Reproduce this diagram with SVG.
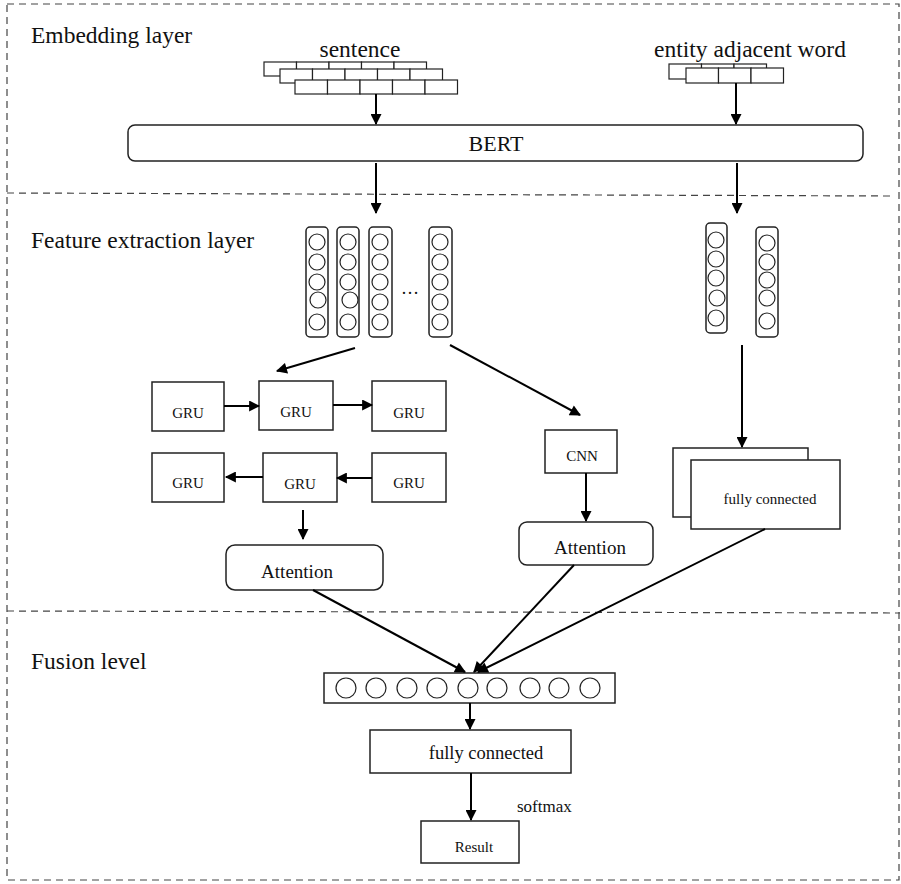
<svg xmlns="http://www.w3.org/2000/svg" width="901" height="884" viewBox="0 0 901 884" font-family="'Liberation Serif','Times New Roman',serif">
<style>
text{font-family:"Liberation Serif","Times New Roman",serif;fill:#111}
.dash{fill:none;stroke:#444;stroke-width:1.2;stroke-dasharray:7,5}
.box{fill:#fff;stroke:#222;stroke-width:1.5}
.cell{fill:#fff;stroke:#222;stroke-width:1.2}
.c{fill:none;stroke:#222;stroke-width:1.2}
.arr{fill:none;stroke:#000;stroke-width:2;marker-end:url(#ah)}
.lbl{font-size:23.5px}
.sm{font-size:15px;text-anchor:middle}
.md{font-size:19px;text-anchor:middle}
</style>
<defs>
<marker id="ah" viewBox="0 0 10 10" refX="9" refY="5" markerWidth="12" markerHeight="11" markerUnits="userSpaceOnUse" orient="auto">
<path d="M0,0L10,5L0,10z" fill="#000"/>
</marker>
<g id="cellrow5">
<rect class="cell" x="0" y="0" width="32.5" height="14"/><rect class="cell" x="32.5" y="0" width="32.5" height="14"/><rect class="cell" x="65" y="0" width="32.5" height="14"/><rect class="cell" x="97.5" y="0" width="32.5" height="14"/><rect class="cell" x="130" y="0" width="32.5" height="14"/>
</g>
<g id="cellrow3">
<rect class="cell" x="0" y="0" width="32.5" height="15"/><rect class="cell" x="32.5" y="0" width="32.5" height="15"/><rect class="cell" x="65" y="0" width="32.5" height="15"/>
</g>
</defs>
<rect width="901" height="884" fill="#fff"/>

<g id="layers">
<path class="dash" d="M7,4H899V880H7Z"/>
<line class="dash" x1="7" y1="193" x2="890" y2="196"/>
<line class="dash" x1="7" y1="611" x2="900" y2="613"/>
<text class="lbl" x="31" y="43">Embedding layer</text>
<text class="lbl" x="31" y="248">Feature extraction layer</text>
<text class="lbl" x="31" y="669">Fusion level</text>
</g>

<g id="sentence">
<text class="lbl" x="360" y="57" text-anchor="middle">sentence</text>
<use href="#cellrow5" x="264" y="62"/>
<use href="#cellrow5" x="280" y="69"/>
<use href="#cellrow5" x="295" y="80"/>
</g>

<g id="entity">
<text class="lbl" x="750" y="57" text-anchor="middle">entity adjacent word</text>
<use href="#cellrow3" x="669" y="64"/>
<use href="#cellrow3" x="686" y="68"/>
</g>

<g id="bert">
<rect class="box" x="128" y="125" width="735" height="36" rx="7"/>
<text x="496" y="151" font-size="22" text-anchor="middle">BERT</text>
</g>

<g id="vectors-left">
<rect class="box" x="306" y="227" width="22" height="110" rx="4"/>
<rect class="box" x="337" y="227" width="22" height="110" rx="4"/>
<rect class="box" x="369" y="227" width="23" height="110" rx="4"/>
<rect class="box" x="429" y="227" width="23" height="110" rx="4"/>
<circle class="c" cx="317" cy="242" r="8"/><circle class="c" cx="317" cy="262" r="8"/><circle class="c" cx="317" cy="282" r="8"/><circle class="c" cx="318" cy="300" r="8"/><circle class="c" cx="317" cy="322" r="8"/>
<circle class="c" cx="348" cy="242" r="8"/><circle class="c" cx="348" cy="262" r="8"/><circle class="c" cx="348" cy="282" r="8"/><circle class="c" cx="350" cy="300" r="8"/><circle class="c" cx="348" cy="322" r="8"/>
<circle class="c" cx="380" cy="242" r="8"/><circle class="c" cx="380" cy="262" r="8"/><circle class="c" cx="380" cy="282" r="8"/><circle class="c" cx="380" cy="302" r="8"/><circle class="c" cx="380" cy="322" r="8"/>
<circle class="c" cx="440" cy="242" r="8"/><circle class="c" cx="440" cy="262" r="8"/><circle class="c" cx="440" cy="282" r="8"/><circle class="c" cx="440" cy="302" r="8"/><circle class="c" cx="440" cy="322" r="8"/>
<text x="410" y="294" font-size="18" text-anchor="middle">…</text>
</g>

<g id="vectors-right">
<rect class="box" x="706" y="223" width="21" height="110" rx="4"/>
<rect class="box" x="756" y="227" width="22" height="110" rx="4"/>
<circle class="c" cx="716" cy="240" r="8"/><circle class="c" cx="716" cy="259" r="8"/><circle class="c" cx="716" cy="278" r="8"/><circle class="c" cx="717" cy="298" r="8"/><circle class="c" cx="716" cy="318" r="8"/>
<circle class="c" cx="767" cy="243" r="8"/><circle class="c" cx="767" cy="262" r="8"/><circle class="c" cx="767" cy="280" r="8"/><circle class="c" cx="767" cy="298" r="8"/><circle class="c" cx="767" cy="321" r="8"/>
</g>

<g id="gru1"><rect class="box" x="152" y="382" width="72" height="49"/><text class="sm" x="188" y="418">GRU</text></g>
<g id="gru2"><rect class="box" x="259" y="381" width="74" height="49"/><text class="sm" x="296" y="417">GRU</text></g>
<g id="gru3"><rect class="box" x="372" y="381" width="74" height="50"/><text class="sm" x="409" y="418">GRU</text></g>
<g id="gru4"><rect class="box" x="152" y="453" width="72" height="49"/><text class="sm" x="188" y="488">GRU</text></g>
<g id="gru5"><rect class="box" x="263" y="453" width="74" height="49"/><text class="sm" x="300" y="489">GRU</text></g>
<g id="gru6"><rect class="box" x="372" y="453" width="74" height="49"/><text class="sm" x="409" y="488">GRU</text></g>

<g id="attention-left"><rect class="box" x="226" y="545" width="157" height="45" rx="9"/><text class="md" x="297" y="578">Attention</text></g>
<g id="cnn"><rect class="box" x="545" y="430" width="72" height="43"/><text class="sm" x="582" y="461">CNN</text></g>
<g id="attention-right"><rect class="box" x="519" y="522" width="134" height="43" rx="8"/><text class="md" x="590" y="554">Attention</text></g>
<g id="fc-right">
<rect class="box" x="673" y="448" width="135" height="69"/>
<rect class="box" x="691" y="460" width="149" height="69"/>
<text class="sm" x="770" y="504">fully connected</text>
</g>

<g id="fusion-vector">
<rect class="box" x="324" y="673" width="291" height="30"/>
<circle class="c" cx="346" cy="688" r="10"/><circle class="c" cx="376" cy="688" r="10"/><circle class="c" cx="407" cy="688" r="10"/><circle class="c" cx="437" cy="688" r="10"/><circle class="c" cx="468" cy="688" r="10"/><circle class="c" cx="497" cy="688" r="10"/><circle class="c" cx="530" cy="688" r="10"/><circle class="c" cx="559" cy="688" r="10"/><circle class="c" cx="590" cy="688" r="10"/>
</g>
<g id="fc-bottom"><rect class="box" x="370" y="730" width="201" height="43"/><text x="486" y="759" font-size="18.5" text-anchor="middle">fully connected</text></g>
<g id="result"><rect class="box" x="421" y="821" width="98" height="42"/><text class="sm" x="474" y="852">Result</text></g>
<text x="517" y="812" font-size="17">softmax</text>

<g id="connectors">
<line class="arr" x1="376" y1="94" x2="376" y2="124"/>
<line class="arr" x1="736" y1="83" x2="736" y2="124"/>
<line class="arr" x1="376" y1="163" x2="376" y2="213"/>
<line class="arr" x1="737" y1="163" x2="737" y2="213"/>
<line class="arr" x1="355" y1="348" x2="277" y2="371"/>
<line class="arr" x1="450" y1="345" x2="580" y2="415"/>
<line class="arr" x1="742" y1="345" x2="742" y2="447"/>
<line class="arr" x1="224" y1="406" x2="259" y2="406"/>
<line class="arr" x1="333" y1="405" x2="372" y2="405"/>
<line class="arr" x1="372" y1="478" x2="337" y2="478"/>
<line class="arr" x1="263" y1="477" x2="226" y2="477"/>
<line class="arr" x1="303" y1="510" x2="303" y2="539"/>
<line class="arr" x1="586" y1="473" x2="586" y2="521"/>
<line class="arr" x1="313" y1="590" x2="465" y2="672"/>
<line class="arr" x1="574" y1="565" x2="474" y2="672"/>
<line class="arr" x1="765" y1="529" x2="478" y2="672"/>
<line class="arr" x1="470" y1="703" x2="470" y2="729"/>
<line class="arr" x1="471" y1="773" x2="471" y2="820"/>
</g>
</svg>
